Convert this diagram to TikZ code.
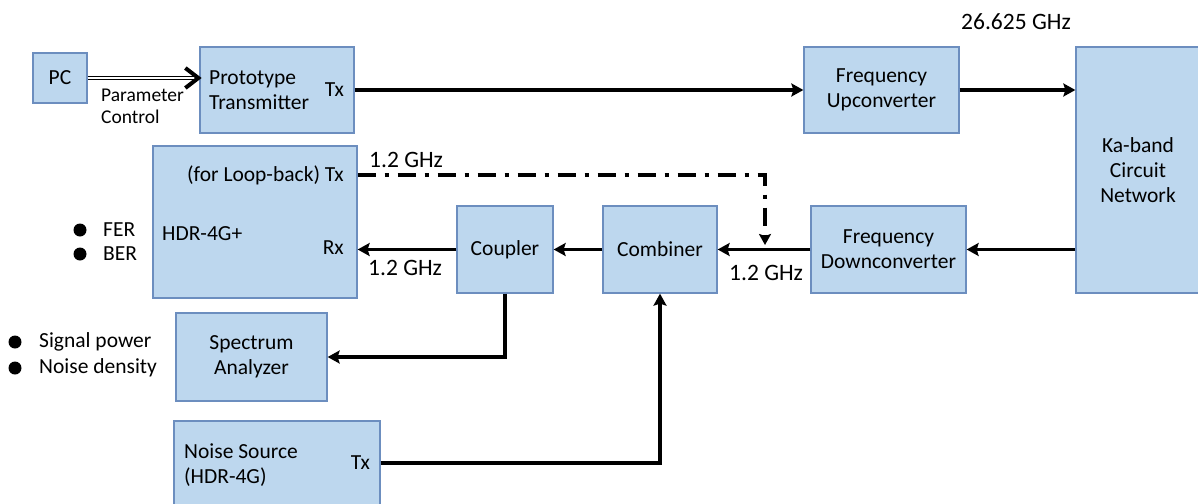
\documentclass[tikz,border=0pt]{standalone}
\usepackage{fontspec}
\setmainfont{Carlito}
\usetikzlibrary{arrows.meta,calc}
\definecolor{boxfill}{HTML}{BDD7EE}
\definecolor{boxline}{HTML}{6C8EBF}
\begin{document}
\begin{tikzpicture}[x=1pt,y=-1pt,
  box/.style={draw=boxline, fill=boxfill, line width=1.3pt, inner sep=0pt, align=center, font=\fontsize{21.5}{25}\selectfont},
  conn/.style={line width=3.8pt, -{Stealth[length=12pt,width=13pt,inset=2pt]}},
  lbl/.style={inner sep=0pt, font=\fontsize{21.5}{25}\selectfont},
  nlbl/.style={inner sep=0pt, font=\fontsize{23.5}{27}\selectfont},
  slbl/.style={inner sep=0pt, font=\fontsize{19.5}{22}\selectfont},
  bullet/.style={circle, fill=black, inner sep=0pt, minimum size=13pt}]
\useasboundingbox (0,0) rectangle (1198,503);
\begin{scope}
\clip (0,0) rectangle (1198,503);
% boxes
\node[box, minimum width=54pt, minimum height=50pt] (pc) at (60,78) {PC};
\node[box, minimum width=154pt, minimum height=86pt] (proto) at (277,90) {};
\node[box, minimum width=155pt, minimum height=86pt] (up) at (881.5,90) {Frequency\\Upconverter};
\node[box, minimum width=124pt, minimum height=246pt] (ka) at (1138,170) {Ka-band\\Circuit\\Network};
\node[box, minimum width=204pt, minimum height=152pt] (hdr) at (255,222) {};
\node[box, minimum width=96pt, minimum height=87pt] (coupler) at (505,249.5) {Coupler};
\node[box, minimum width=114pt, minimum height=87pt] (combiner) at (660,249.5) {Combiner};
\node[box, minimum width=155pt, minimum height=87pt] (down) at (888.5,249.5) {Frequency\\Downconverter};
\node[box, minimum width=151pt, minimum height=88pt] (spec) at (251.5,357) {Spectrum\\Analyzer};
\node[box, minimum width=206pt, minimum height=84pt] (noise) at (277,463) {};
\end{scope}
% texts inside boxes
\node[lbl, anchor=west, align=left] (prototxt) at (209,90) {Prototype\\Transmitter};
\node[lbl, anchor=east] (prototx) at (344,90) {Tx};
\node[lbl, anchor=east] (looptx) at (344,175) {(for Loop-back) Tx};
\node[lbl, anchor=west] (hdrtxt) at (162,234) {HDR-4G+};
\node[lbl, anchor=east] (hdrrx) at (344,248) {Rx};
\node[lbl, anchor=west, align=left] (noisetxt) at (184,465) {Noise Source\\(HDR-4G)};
\node[lbl, anchor=east] (noisetx) at (370,463) {Tx};
% outside labels
\node[slbl, anchor=west, align=left] (param) at (101,106) {Parameter\\Control};
\node[nlbl] (f26) at (1016,22) {26.625 GHz};
\node[nlbl, anchor=west] (g1) at (369,160) {1.2 GHz};
\node[nlbl, anchor=west] (g2) at (368,268) {1.2 GHz};
\node[nlbl, anchor=west] (g3) at (729,273) {1.2 GHz};
\node[bullet] (b1) at (80,230) {};
\node[lbl, anchor=west] (fer) at (103,230) {FER};
\node[bullet] (b2) at (80,254) {};
\node[lbl, anchor=west] (ber) at (103,254) {BER};
\node[bullet] (b3) at (15,342) {};
\node[lbl, anchor=west] (sp) at (39,342) {Signal power};
\node[bullet] (b4) at (15,368) {};
\node[lbl, anchor=west] (nd) at (39,368) {Noise density};
% connectors
\coordinate (pin) at (proto.west |- pc.east);
\draw[double=white, double distance=2.2pt, line width=1.2pt] (pc.east) -- ($(pin)+(-5,0)$);
\draw[line width=4pt, line join=miter] ($(pin)+(-14,-10)$) -- ($(pin)+(-1,0)$) -- ($(pin)+(-14,10)$);
\draw[conn] (proto.east |- prototx) -- (up.west |- prototx);
\draw[conn] (up.east) -- (up.east -| ka.west);
\draw[conn] (ka.west |- down.east) -- (down.east);
\draw[conn] (down.west) -- (combiner.east);
\draw[conn] (combiner.west) -- (coupler.east);
\draw[conn] (coupler.west) -- (hdr.east |- coupler.west);
\draw[conn] (coupler.south) |- (spec.east);
\draw[conn] (noise.east) -| (combiner.south);
\coordinate (lend) at (765,245);
\draw[line width=3.8pt, dash pattern=on 18pt off 9pt on 4pt off 9pt, -{Stealth[length=11pt,width=12pt,inset=2pt]}] (hdr.east |- looptx) -| (lend);
\end{tikzpicture}
\end{document}
